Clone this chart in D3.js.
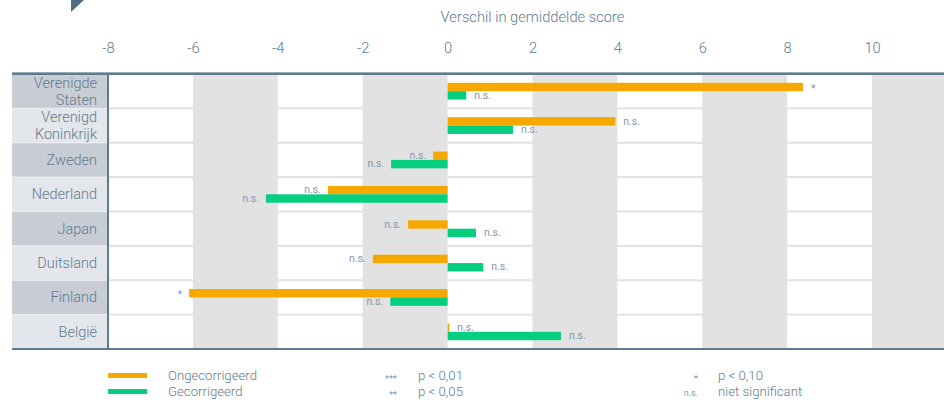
<!DOCTYPE html>
<html>
<head>
<meta charset="utf-8">
<script src="https://cdn.jsdelivr.net/npm/d3@7"></script>
<style>
  html, body { margin: 0; padding: 0; background: #ffffff; }
  svg { display: block; font-family: Roboto, "Noto Sans", sans-serif; font-weight: 300; }
</style>
</head>
<body>
<svg id="chart" width="944" height="420"></svg>
<script>
// Countries (line breaks split long names over two lines)
const categories = [
  "Verenigde\nStaten", "Verenigd\nKoninkrijk", "Zweden", "Nederland",
  "Japan", "Duitsland", "Finland", "België"
];
// Difference in mean score
const uncorrected = [8.37, 3.95, -0.34, -2.82, -0.93, -1.76, -6.09, 0.04];
const corrected   = [0.44, 1.54, -1.33, -4.28, 0.67, 0.84, -1.35, 2.67];
// Significance markers
const sigUncorrected = ["*", "n.s.", "n.s.", "n.s.", "n.s.", "n.s.", "*", "n.s."];
const sigCorrected   = ["n.s.", "n.s.", "n.s.", "n.s.", "n.s.", "n.s.", "n.s.", "n.s."];
const tickValues = [-8, -6, -4, -2, 0, 2, 4, 6, 8, 10];
const seriesNames = ["Ongecorrigeerd", "Gecorrigeerd"];
const sigLegend = [["***", "p < 0,01"], ["**", "p < 0,05"], ["*", "p < 0,10"], ["n.s.", "niet significant"]];

const COLORS = { orange: "#f5a800", green: "#05cf7e", text: "#5f7b90", small: "#8597a7",
                 band: "#e2e2e2", axis: "#5f7b90", labDark: "#c8cdd5", labLight: "#e3e6ea" };

const svg = d3.select("#chart");
const x = d3.scaleLinear().domain([-8, 12]).range([108, 957]);
const y = d3.scaleBand().domain(d3.range(categories.length)).range([74, 349]).padding(0);
const barH = 8.4;

// Alternating grey columns behind the plot
const bandStarts = [-6, -2, 2, 6, 10];
svg.append("g").selectAll("rect").data(bandStarts).join("rect")
  .attr("x", d => x(d)).attr("width", d => x(d + 2) - x(d))
  .attr("y", 74).attr("height", 275).attr("fill", COLORS.band);

// Row separators
svg.append("g").selectAll("rect").data(d3.range(1, categories.length)).join("rect")
  .attr("x", 109).attr("width", 944 - 109)
  .attr("y", d => y(d) - 1).attr("height", 2).attr("fill", COLORS.band);

// Category label column
const lab = svg.append("g");
lab.selectAll("rect").data(d3.range(categories.length)).join("rect")
  .attr("x", 12).attr("width", 95)
  .attr("y", d => y(d)).attr("height", y.bandwidth())
  .attr("fill", d => d % 2 === 0 ? COLORS.labDark : COLORS.labLight);
lab.selectAll("rect.sep").data(d3.range(1, categories.length)).join("rect")
  .attr("class", "sep").attr("x", 12).attr("width", 95)
  .attr("y", d => y(d) - 0.5).attr("height", 1).attr("fill", "#eef0f3");
categories.forEach((c, i) => {
  const lines = c.split("\n");
  const cy = y(i) + y.bandwidth() / 2;
  lines.forEach((ln, j) => {
    lab.append("text").attr("text-anchor", "end")
      .attr("fill", COLORS.text).attr("font-size", 14.5)
      .attr("x", 97)
      .attr("y", cy + 5 + (j - (lines.length - 1) / 2) * 17)
      .text(ln);
  });
});

// Frame lines
svg.append("rect").attr("x", 12).attr("y", 72).attr("width", 932).attr("height", 1).attr("fill", "#9aabb8");
svg.append("rect").attr("x", 12).attr("y", 73).attr("width", 932).attr("height", 2).attr("fill", COLORS.axis);
svg.append("rect").attr("x", 12).attr("y", 348).attr("width", 932).attr("height", 2).attr("fill", COLORS.axis);
svg.append("rect").attr("x", 107).attr("y", 73).attr("width", 2).attr("height", 277).attr("fill", COLORS.axis);

// Corner mark
svg.append("path").attr("d", "M71,0 L84,0 L71,12 Z").attr("fill", "#4f6e86");

// Axis title and tick labels
svg.append("text").attr("x", x(2)).attr("y", 22).attr("text-anchor", "middle")
  .attr("fill", COLORS.text).attr("font-size", 14.7).text("Verschil in gemiddelde score");
const axis = d3.axisTop(x).tickValues(tickValues).tickSize(0).tickPadding(0)
  .tickFormat(d => d3.format("d")(d).replace("−", "-"));
const ax = svg.append("g").attr("transform", "translate(0,48)").call(axis);
ax.select(".domain").remove();
ax.selectAll("text").attr("fill", COLORS.text).attr("font-size", 14.7)
  .attr("font-family", "Roboto, sans-serif").attr("font-weight", 300)
  .attr("dy", "0.35em").attr("y", 0);

// Bars
const series = [
  { vals: uncorrected, sig: sigUncorrected, color: COLORS.orange, off: -barH },
  { vals: corrected,   sig: sigCorrected,   color: COLORS.green,  off: 0 }
];
series.forEach(s => {
  const g = svg.append("g");
  g.selectAll("rect").data(s.vals).join("rect")
    .attr("x", d => x(Math.min(0, d)))
    .attr("width", d => Math.max(1, Math.abs(x(d) - x(0))))
    .attr("y", (d, i) => y(i) + y.bandwidth() / 2 + s.off)
    .attr("height", barH)
    .attr("fill", s.color);
  g.selectAll("text").data(s.vals).join("text")
    .attr("x", d => d >= 0 ? x(d) + 8 : x(d) - 7)
    .attr("y", (d, i) => y(i) + y.bandwidth() / 2 + s.off + barH - 1 + (s.sig[i] === "*" ? 2 : 0))
    .attr("text-anchor", d => d >= 0 ? "start" : "end")
    .attr("fill", COLORS.small).attr("font-size", 10.5).attr("font-weight", 400)
    .text((d, i) => s.sig[i]);
});

// Legend
const leg = svg.append("g");
[COLORS.orange, COLORS.green].forEach((c, i) => {
  leg.append("rect").attr("x", 108).attr("y", 373 + i * 16).attr("width", 39).attr("height", 5).attr("fill", c);
  leg.append("text").attr("x", 168).attr("y", 380 + i * 16).attr("fill", COLORS.text)
    .attr("font-size", 13.2).text(seriesNames[i]);
});
const sigPos = [[397, 418, 0], [397, 418, 1], [698, 718, 0], [698, 718, 1]];
sigLegend.forEach((s, i) => {
  const [sx, tx, row] = sigPos[i];
  leg.append("text").attr("x", sx).attr("y", 380 + row * 16 + (s[0].startsWith("*") ? 2 : 0))
    .attr("text-anchor", "end").attr("fill", COLORS.small).attr("font-size", 9)
    .attr("font-weight", 400).text(s[0]);
  leg.append("text").attr("x", tx).attr("y", 380 + row * 16).attr("fill", COLORS.text)
    .attr("font-size", 13.2).text(s[1]);
});
</script>
</body>
</html>
